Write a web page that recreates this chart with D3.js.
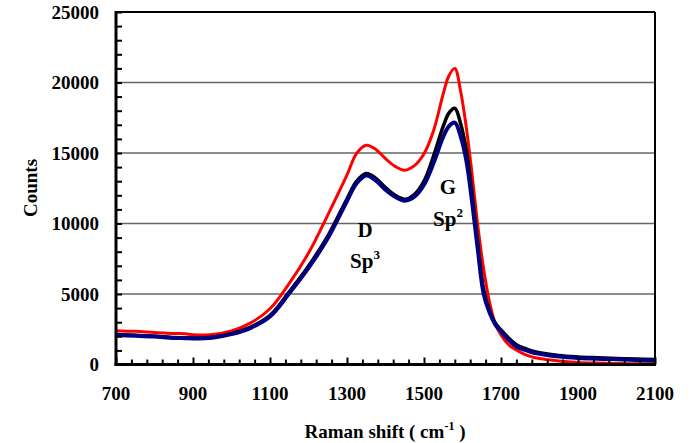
<!DOCTYPE html>
<html><head><meta charset="utf-8">
<script src="https://cdn.jsdelivr.net/npm/d3@7"></script>
<style>html,body{margin:0;padding:0;background:#fff}svg{display:block}text{font-family:"Liberation Serif","Times New Roman",serif;font-weight:bold;fill:#000}</style>
</head><body><svg id="c" width="691" height="443"></svg>
<script>
const shift = [700,750,800,850,880,900,950,1000,1050,1100,1150,1200,1250,1300,1325,1350,1375,1400,1425,1450,1475,1500,1525,1550,1565,1580,1595,1610,1625,1640,1655,1670,1685,1700,1720,1740,1760,1780,1800,1850,1900,1950,2000,2050,2100];
const redCounts = [2400,2350,2270,2200,2180,2110,2130,2380,2950,3950,5750,7900,10600,13450,14980,15550,15250,14600,14050,13780,14100,14950,16600,19200,20500,21000,19400,16800,13450,9800,6750,4450,2900,2100,1400,1030,740,540,420,250,150,100,70,50,40];
const blackCounts = [2120,2070,2010,1910,1900,1880,1930,2190,2650,3480,5150,6980,9100,11750,13000,13550,13200,12550,12000,11720,12050,13000,14800,16900,17850,18170,17100,15200,12100,8500,5300,3850,2950,2450,1870,1400,1160,960,840,640,540,480,430,390,350];
const navyCounts = [2090,2040,1980,1880,1870,1850,1900,2150,2600,3400,5050,6850,8950,11600,12850,13400,13050,12400,11900,11620,11900,12750,14300,16150,16900,17150,16200,14450,11500,8100,5000,3700,2850,2340,1750,1280,1060,870,760,560,460,410,370,320,270];
const xTickLabels = [700,900,1100,1300,1500,1700,1900,2100];
const yTickLabels = [0,5000,10000,15000,20000,25000];

const svg = d3.select("#c");
const L=116, R=655, T=12, B=364.5;
const x = d3.scaleLinear().domain([700,2100]).range([L,R]);
const y = d3.scaleLinear().domain([0,25000]).range([B,T]);

// gridlines
svg.append("g").selectAll("line").data(yTickLabels.filter(d=>d>0)).join("line")
  .attr("x1",L).attr("x2",R).attr("y1",d=>y(d)).attr("y2",d=>y(d))
  .attr("stroke",d=>d===25000?"#000":"#666").attr("stroke-width",d=>d===25000?2:1.5);

// curves
const line = d3.line().x((d,i)=>x(shift[i])).y(d=>y(d)).curve(d3.curveCatmullRom.alpha(0.5));
const series = [[redCounts,"#ff0000",3],[blackCounts,"#000000",3.5],[navyCounts,"#000080",4]];
series.forEach(([vals,col,w])=>{
  svg.append("path").datum(vals).attr("d",line).attr("fill","none")
    .attr("stroke",col).attr("stroke-width",w).attr("stroke-linejoin","round");
});

// right border
svg.append("line").attr("x1",R).attr("x2",R).attr("y1",T).attr("y2",B).attr("stroke","#000").attr("stroke-width",2);

// y axis with minor ticks inward
const yAxis = d3.axisRight(y).tickValues(d3.range(0,25001,1000)).tickSize(6).tickFormat("");
const gy = svg.append("g").attr("transform",`translate(${L},0)`).call(yAxis);
gy.select(".domain").remove();
gy.selectAll("line").attr("stroke","#000").attr("stroke-width",2);
svg.append("line").attr("x1",L).attr("x2",L).attr("y1",T-1).attr("y2",B+1.5).attr("stroke","#000").attr("stroke-width",3);

// x axis ticks upward
const xAxis = d3.axisTop(x).tickValues(d3.range(700,2101,40)).tickSize(5).tickFormat("");
const gx = svg.append("g").attr("transform",`translate(0,${B})`).call(xAxis);
gx.select(".domain").remove();
gx.selectAll("line").attr("stroke","#000").attr("stroke-width",2)
  .attr("y2",d=>((d-700)%200===0)?-7:-5);
svg.append("line").attr("x1",L-1.5).attr("x2",R+1).attr("y1",B).attr("y2",B).attr("stroke","#000").attr("stroke-width",3);

// tick labels
svg.append("g").selectAll("text").data(yTickLabels).join("text")
  .attr("x",99).attr("y",d=>y(d)).attr("dy","0.35em").attr("text-anchor","end")
  .style("font-size","19px").text(d=>d);
svg.append("g").selectAll("text").data(xTickLabels).join("text")
  .attr("x",d=>x(d)).attr("y",400).attr("text-anchor","middle")
  .style("font-size","19px").text(d=>d);

// axis titles
const xt = svg.append("text").attr("x",385).attr("y",438).attr("text-anchor","middle").style("font-size","19px");
xt.append("tspan").text("Raman shift ( cm");
xt.append("tspan").attr("dy",-8).style("font-size","12px").text("-1");
xt.append("tspan").attr("dy",8).text(" )");
svg.append("text").attr("transform","translate(37,188) rotate(-90)").attr("text-anchor","middle")
  .style("font-size","19px").text("Counts");

// annotations
svg.append("text").attr("x",365).attr("y",237).attr("text-anchor","middle").style("font-size","21px").text("D");
const s3 = svg.append("text").attr("x",365).attr("y",268).attr("text-anchor","middle").style("font-size","21px");
s3.append("tspan").text("Sp");
s3.append("tspan").attr("dy",-9).style("font-size","13px").text("3");
svg.append("text").attr("x",448).attr("y",194).attr("text-anchor","middle").style("font-size","21px").text("G");
const s2 = svg.append("text").attr("x",448).attr("y",226).attr("text-anchor","middle").style("font-size","21px");
s2.append("tspan").text("Sp");
s2.append("tspan").attr("dy",-9).style("font-size","13px").text("2");
</script></body></html>
